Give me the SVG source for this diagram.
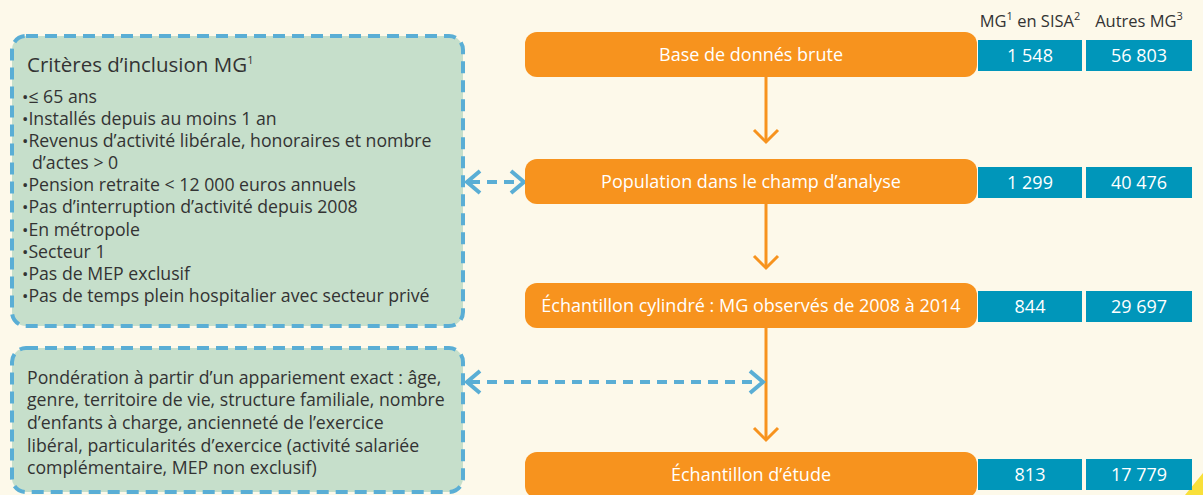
<svg xmlns="http://www.w3.org/2000/svg" width="1203" height="495" viewBox="0 0 1203 495">
<style>
.bg{fill:#FDF9EA}
.crit{fill:#C6DFCB;stroke:#5AAED5;stroke-width:4;stroke-dasharray:12 7}
.step{fill:#F7931E}
.cell{fill:#0096BA}
.t{font-family:"Open Sans","Noto Sans","Liberation Sans",sans-serif;fill:#333}
.w{font-family:"Open Sans","Noto Sans","Liberation Sans",sans-serif;fill:#fff;font-size:18px;text-anchor:middle}
.b{font-size:17.7px}
.sup{font-size:11px}
.dot{font-size:17px}
.oline{stroke:#F7931E;stroke-width:3;fill:none}
.dline{stroke:#5AAED5;stroke-width:4;fill:none;stroke-dasharray:10 7}
.chev{stroke:#5AAED5;stroke-width:4;fill:none}
</style>
<rect class="bg" x="0" y="0" width="1203" height="495"/>
<polygon points="1185,495 1203,473 1203,495" fill="#F9E03A"/>

<g id="headers">
<text class="t" x="1030" y="27" font-size="16.5" text-anchor="middle">MG<tspan class="sup" dy="-7">1</tspan><tspan dy="7"> en SISA</tspan><tspan class="sup" dy="-7">2</tspan></text>
<text class="t" x="1139" y="27" font-size="16.5" text-anchor="middle">Autres MG<tspan class="sup" dy="-7">3</tspan></text>
</g>

<g id="criteres">
<rect class="crit" x="12" y="36" width="451" height="290" rx="14"/>
<text class="t" x="27" y="72" font-size="20.5">Critères d’inclusion MG<tspan class="sup" dy="-8">1</tspan></text>
<g class="t b">
<text x="22" y="103"><tspan class="dot">•</tspan>≤ 65 ans</text>
<text x="22" y="125"><tspan class="dot">•</tspan>Installés depuis au moins 1 an</text>
<text x="22" y="147"><tspan class="dot">•</tspan>Revenus d’activité libérale, honoraires et nombre</text>
<text x="32" y="169">d’actes &gt; 0</text>
<text x="22" y="191"><tspan class="dot">•</tspan>Pension retraite &lt; 12 000 euros annuels</text>
<text x="22" y="213"><tspan class="dot">•</tspan>Pas d’interruption d’activité depuis 2008</text>
<text x="22" y="236"><tspan class="dot">•</tspan>En métropole</text>
<text x="22" y="258"><tspan class="dot">•</tspan>Secteur 1</text>
<text x="22" y="280"><tspan class="dot">•</tspan>Pas de MEP exclusif</text>
<text x="22" y="302"><tspan class="dot">•</tspan>Pas de temps plein hospitalier avec secteur privé</text>
</g>
</g>

<g id="ponderation">
<rect class="crit" x="12" y="348" width="451" height="144" rx="14"/>
<g class="t b">
<text x="27" y="384">Pondération à partir d’un appariement exact : âge,</text>
<text x="27" y="406">genre, territoire de vie, structure familiale, nombre</text>
<text x="27" y="429">d’enfants à charge, ancienneté de l’exercice</text>
<text x="27" y="452">libéral, particularités d’exercice (activité salariée</text>
<text x="27" y="474">complémentaire, MEP non exclusif)</text>
</g>
</g>

<g id="connectors">
<line class="oline" x1="766" y1="77" x2="766" y2="142"/>
<polyline class="oline" points="754,130 766,142 778,130"/>
<line class="oline" x1="766" y1="204" x2="766" y2="268"/>
<polyline class="oline" points="754,256 766,268 778,256"/>
<line class="oline" x1="766" y1="328" x2="766" y2="440"/>
<polyline class="oline" points="754,428 766,440 778,428"/>
<line class="dline" x1="470" y1="182" x2="520" y2="182"/>
<polyline class="chev" points="480,171 467,182 480,193"/>
<polyline class="chev" points="511,171 524,182 511,193"/>
<line class="dline" x1="470" y1="382" x2="758" y2="382"/>
<polyline class="chev" points="480,371 467,382 480,393"/>
<polyline class="chev" points="750,371 763,382 750,393"/>
</g>

<g id="base">
<rect class="step" x="525" y="32" width="452" height="45" rx="12"/>
<text class="w" x="751" y="61">Base de donnés brute</text>
<rect class="cell" x="978" y="40" width="104" height="31"/>
<text class="w" x="1030" y="62">1 548</text>
<rect class="cell" x="1086" y="40" width="106" height="31"/>
<text class="w" x="1139" y="62">56 803</text>
</g>

<g id="population">
<rect class="step" x="525" y="159" width="452" height="45" rx="12"/>
<text class="w" x="751" y="188">Population dans le champ d’analyse</text>
<rect class="cell" x="978" y="167" width="104" height="31"/>
<text class="w" x="1030" y="189">1 299</text>
<rect class="cell" x="1086" y="167" width="106" height="31"/>
<text class="w" x="1139" y="189">40 476</text>
</g>

<g id="cylindre">
<rect class="step" x="525" y="283" width="452" height="45" rx="12"/>
<text class="w" x="751" y="312">Échantillon cylindré : MG observés de 2008 à 2014</text>
<rect class="cell" x="978" y="291" width="104" height="31"/>
<text class="w" x="1030" y="313">844</text>
<rect class="cell" x="1086" y="291" width="106" height="31"/>
<text class="w" x="1139" y="313">29 697</text>
</g>

<g id="etude">
<rect class="step" x="525" y="452" width="452" height="46" rx="12"/>
<text class="w" x="751" y="481">Échantillon d’étude</text>
<rect class="cell" x="978" y="459" width="104" height="31"/>
<text class="w" x="1030" y="481">813</text>
<rect class="cell" x="1086" y="459" width="106" height="31"/>
<text class="w" x="1139" y="481">17 779</text>
</g>
</svg>
